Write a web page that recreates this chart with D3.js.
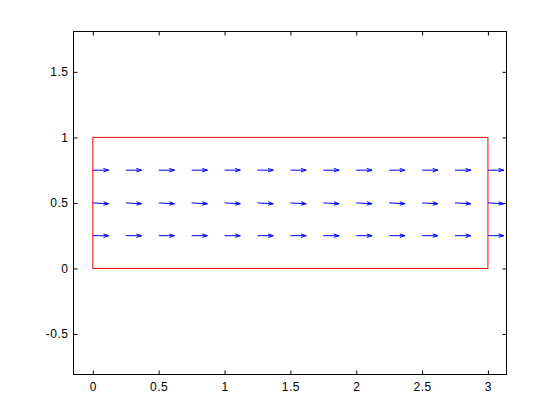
<!DOCTYPE html>
<html>
<head>
<meta charset="utf-8">
<script src="https://cdn.jsdelivr.net/npm/d3@7"></script>
<style>
  body { margin: 0; background: #fff; }
  svg { display: block; }
  .tick text { font-family: "Liberation Sans", Arial, sans-serif; font-size: 12px; letter-spacing: 0.5px; fill: #000; }
</style>
</head>
<body>
<div id="chart"></div>
<script>
// quiver grid and vectors
const xGrid = [0, 0.25, 0.5, 0.75, 1, 1.25, 1.5, 1.75, 2, 2.25, 2.5, 2.75, 3];
const yGrid = [0.25, 0.5, 0.75];
const uRow = [0.12, 0.12, 0.12];
const vRow = [0, -0.006, 0];

// red box outline
const boxX = [0, 3, 3, 0, 0];
const boxY = [0, 0, 1, 1, 0];

const xTicks = [0, 0.5, 1, 1.5, 2, 2.5, 3];
const yTicks = [-0.5, 0, 0.5, 1, 1.5];

const width = 560, height = 420;
const pLeft = 73, pRight = 506, pTop = 31, pBottom = 374;

const svg = d3.select("#chart").append("svg")
  .attr("width", width)
  .attr("height", height);

const x = d3.scaleLinear().domain([-0.147, 3.141]).range([pLeft, pRight]);
const y = d3.scaleLinear().domain([-0.809, 1.808]).range([pBottom, pTop]);

const g = svg.append("g").attr("transform", "translate(0.5,0.5)");

// axes, ticks pointing inward (plain hyphen for negatives, like matlab)
const fmt = d => String(d);
g.append("g").attr("transform", `translate(0,${pBottom})`)
  .call(d3.axisBottom(x).tickValues(xTicks).tickSizeInner(-4).tickSizeOuter(0).tickPadding(8).tickFormat(fmt));
g.append("g").attr("transform", `translate(0,${pTop})`)
  .call(d3.axisTop(x).tickValues(xTicks).tickSizeInner(-4).tickSizeOuter(0).tickFormat(""));
g.append("g").attr("transform", `translate(${pLeft},0)`)
  .call(d3.axisLeft(y).tickValues(yTicks).tickSizeInner(-4).tickSizeOuter(0).tickPadding(5).tickFormat(fmt));
g.append("g").attr("transform", `translate(${pRight},0)`)
  .call(d3.axisRight(y).tickValues(yTicks).tickSizeInner(-4).tickSizeOuter(0).tickFormat(""));
g.selectAll(".domain").remove();
g.selectAll(".tick line").attr("stroke", "#000");

// plot box
g.append("rect")
  .attr("x", pLeft).attr("y", pTop)
  .attr("width", pRight - pLeft).attr("height", pBottom - pTop)
  .attr("fill", "none").attr("stroke", "#000");

// red rectangle
const line = d3.line().x(d => x(d[0])).y(d => y(d[1]));
g.append("path")
  .datum(boxX.map((d, i) => [d, boxY[i]]))
  .attr("d", line)
  .attr("fill", "none")
  .attr("stroke", "#ff0000");

// quiver arrows
const arrows = [];
yGrid.forEach((yy, r) => {
  xGrid.forEach(xx => arrows.push({ x: xx, y: yy, u: uRow[r], v: vRow[r] }));
});

function arrowPath(d) {
  const x0 = x(d.x), y0 = y(d.y);
  const x1 = x(d.x + d.u), y1 = y(d.y + d.v);
  const dx = x1 - x0, dy = y1 - y0;
  const a = 0.33, b = 0.33;
  const hx = x1 - a * (dx + b * dy), hy = y1 - a * (dy - b * dx);
  const kx = x1 - a * (dx - b * dy), ky = y1 - a * (dy + b * dx);
  return `M${x0},${y0}L${x1},${y1}M${hx},${hy}L${x1},${y1}L${kx},${ky}`;
}

g.append("g").selectAll("path")
  .data(arrows)
  .enter()
  .append("path")
  .attr("d", arrowPath)
  .attr("fill", "none")
  .attr("stroke", "#0000ff")
  .attr("stroke-width", 1);
</script>
</body>
</html>
